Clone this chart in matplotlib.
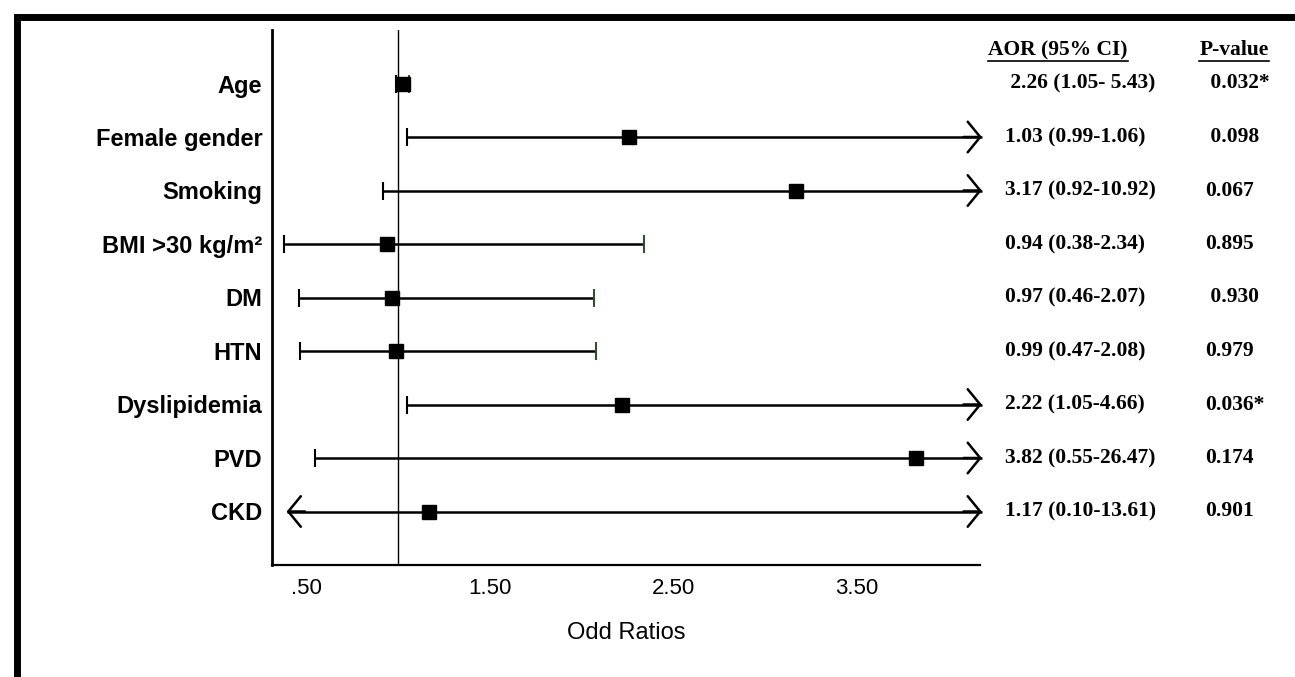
import matplotlib
matplotlib.use('Agg')
import matplotlib.pyplot as plt
from matplotlib.lines import Line2D
from matplotlib.patches import Rectangle

# forest plot data (plotted values)
labels = ['Age', 'Female gender', 'Smoking', 'BMI >30 kg/m²', 'DM', 'HTN',
          'Dyslipidemia', 'PVD', 'CKD']
aor = [1.03, 2.26, 3.17, 0.94, 0.97, 0.99, 2.22, 3.82, 1.17]
ci_low = [0.99, 1.05, 0.92, 0.38, 0.46, 0.47, 1.05, 0.55, 0.10]
ci_high = [1.06, 5.43, 10.92, 2.34, 2.07, 2.08, 4.66, 26.47, 13.61]

# table text on the right, as printed
aor_text = [' 2.26 (1.05- 5.43)', '1.03 (0.99-1.06)', '3.17 (0.92-10.92)',
            '0.94 (0.38-2.34)', '0.97 (0.46-2.07)', '0.99 (0.47-2.08)',
            '2.22 (1.05-4.66)', '3.82 (0.55-26.47)', '1.17 (0.10-13.61)']
p_text = [' 0.032*', ' 0.098', '0.067', '0.895', ' 0.930', '0.979',
          '0.036*', '0.174', '0.901']

xticks = [0.5, 1.5, 2.5, 3.5]
xtick_labels = ['.50', '1.50', '2.50', '3.50']

W, H = 1295, 677
fig = plt.figure(figsize=(W / 100, H / 100), dpi=100)
ax = fig.add_axes([272 / W, 1 - 565 / H, (980 - 272) / W, (565 - 30) / H])

xmin, xmax = 0.315, 4.17
arrow_lo, arrow_hi = 0.395, 4.18
n = len(labels)
ys = [n - i for i in range(n)]

ax.axvline(1.0, color='black', lw=1.0, zorder=1)

arrow = dict(arrowstyle='->,head_length=0.45,head_width=0.55', lw=1.8,
             color='black', shrinkA=0, shrinkB=0, mutation_scale=20)
for y, m, lo, hi in zip(ys, aor, ci_low, ci_high):
    left = arrow_lo if lo < xmin else lo
    right = arrow_hi if hi > xmax else hi
    ax.plot([left, right], [y, y], color='black', lw=1.8, zorder=2,
            solid_capstyle='butt', clip_on=False)
    # caps or open arrow heads
    if lo < xmin:
        ax.annotate('', xy=(left, y), xytext=(left + 0.1, y), arrowprops=arrow,
                    annotation_clip=False)
    else:
        ax.plot([left], [y], marker='|', ms=13, mew=1.5, color='black', zorder=2)
    if hi > xmax:
        ax.annotate('', xy=(right, y), xytext=(right - 0.1, y), arrowprops=arrow,
                    annotation_clip=False)
    else:
        ax.plot([right], [y], marker='|', ms=13, mew=1.5, color='#2f4f2f', zorder=2)
    ax.plot([m], [y], marker='s', ms=9.5, color='black', zorder=3)

ax.set_xlim(xmin, xmax)
ax.set_ylim(0, n + 1)
ax.set_xticks(xticks, xtick_labels)
ax.set_yticks(ys, labels)
ax.tick_params(axis='both', length=0)
ax.tick_params(axis='x', pad=9, labelsize=16)
ax.tick_params(axis='y', pad=7, labelsize=17)
for t in ax.get_yticklabels():
    t.set_fontweight('bold')
    t.set_fontfamily('Liberation Sans')
for t in ax.get_xticklabels():
    t.set_fontfamily('Liberation Sans')
ax.set_xlabel('Odd Ratios', fontsize=17, family='Liberation Sans', labelpad=17)

ax.spines['top'].set_visible(False)
ax.spines['right'].set_visible(False)
ax.spines['left'].set_linewidth(2.0)
ax.spines['bottom'].set_linewidth(1.6)

# table on the right
tfont = dict(family='Liberation Serif', fontweight='bold', fontsize=15.5,
             va='center', transform=ax.get_yaxis_transform())
col1 = (1005 - 272) / (980 - 272)
col2 = (1205 - 272) / (980 - 272)
for y, a, p in zip(ys, aor_text, p_text):
    ax.text(col1, y, a, ha='left', clip_on=False, **tfont)
    ax.text(col2, y, p, ha='left', clip_on=False, **tfont)

hfont = dict(family='Liberation Serif', fontweight='bold', fontsize=15.5,
             va='center', transform=fig.transFigure)
h1 = fig.text(1058 / W, 1 - 50 / H, 'AOR (95% CI)', ha='center', **hfont)
h2 = fig.text(1234 / W, 1 - 50 / H, 'P-value', ha='center', **hfont)

fig.canvas.draw()
inv = fig.transFigure.inverted()
for h in (h1, h2):
    bb = h.get_window_extent()
    (x0, y0), (x1, _) = inv.transform([[bb.x0, bb.y0 - 1], [bb.x1, bb.y0]])
    fig.add_artist(Line2D([x0, x1], [y0, y0], color='black', lw=1.2,
                          transform=fig.transFigure))

# thick outer frame (only left and top edges fall inside the picture)
fig.add_artist(Rectangle((16.5 / W, -0.5), 2, 1.5 - 17 / H, fill=False,
                         lw=5, edgecolor='black', transform=fig.transFigure))

fig.savefig('out.png', dpi=100)
